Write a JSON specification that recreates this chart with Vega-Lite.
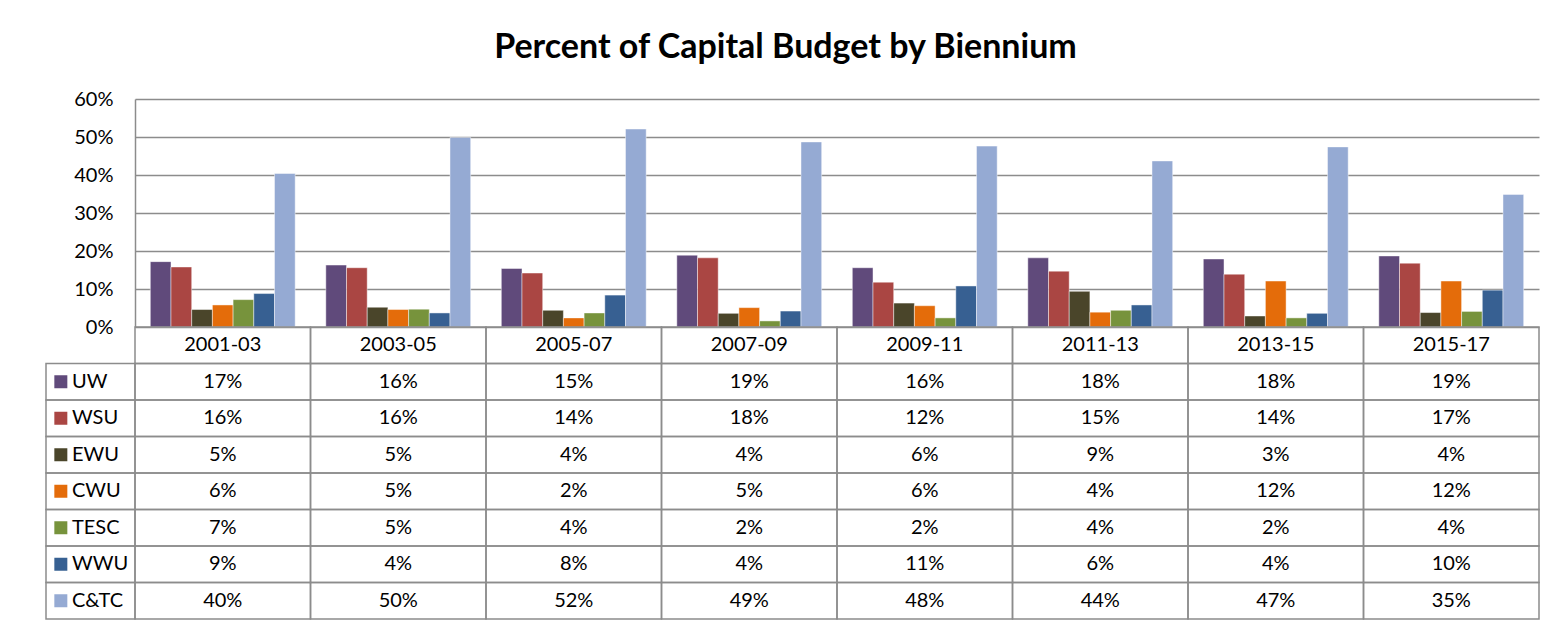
{
  "$schema": "https://vega.github.io/schema/vega-lite/v6.json",
  "padding": {"left": 45, "top": 31, "right": 5, "bottom": 5},
  "background": "#ffffff",
  "title": {"text": "Percent of Capital Budget by Biennium", "font": "Lato", "fontSize": 34, "fontWeight": "bold", "color": "#000000", "anchor": "middle", "offset": 24, "dx": -7},
  "config": {"font": "Lato", "view": {"stroke": null}},
  "data": {"values": [
    {"biennium": "2001-03", "series": "UW", "value": 0.172},
    {"biennium": "2001-03", "series": "WSU", "value": 0.158},
    {"biennium": "2001-03", "series": "EWU", "value": 0.046},
    {"biennium": "2001-03", "series": "CWU", "value": 0.058},
    {"biennium": "2001-03", "series": "TESC", "value": 0.072},
    {"biennium": "2001-03", "series": "WWU", "value": 0.088},
    {"biennium": "2001-03", "series": "C&TC", "value": 0.404},
    {"biennium": "2003-05", "series": "UW", "value": 0.163},
    {"biennium": "2003-05", "series": "WSU", "value": 0.156},
    {"biennium": "2003-05", "series": "EWU", "value": 0.052},
    {"biennium": "2003-05", "series": "CWU", "value": 0.046},
    {"biennium": "2003-05", "series": "TESC", "value": 0.047},
    {"biennium": "2003-05", "series": "WWU", "value": 0.037},
    {"biennium": "2003-05", "series": "C&TC", "value": 0.499},
    {"biennium": "2005-07", "series": "UW", "value": 0.154},
    {"biennium": "2005-07", "series": "WSU", "value": 0.142},
    {"biennium": "2005-07", "series": "EWU", "value": 0.044},
    {"biennium": "2005-07", "series": "CWU", "value": 0.024},
    {"biennium": "2005-07", "series": "TESC", "value": 0.037},
    {"biennium": "2005-07", "series": "WWU", "value": 0.084},
    {"biennium": "2005-07", "series": "C&TC", "value": 0.521},
    {"biennium": "2007-09", "series": "UW", "value": 0.189},
    {"biennium": "2007-09", "series": "WSU", "value": 0.182},
    {"biennium": "2007-09", "series": "EWU", "value": 0.036},
    {"biennium": "2007-09", "series": "CWU", "value": 0.051},
    {"biennium": "2007-09", "series": "TESC", "value": 0.016},
    {"biennium": "2007-09", "series": "WWU", "value": 0.042},
    {"biennium": "2007-09", "series": "C&TC", "value": 0.487},
    {"biennium": "2009-11", "series": "UW", "value": 0.156},
    {"biennium": "2009-11", "series": "WSU", "value": 0.118},
    {"biennium": "2009-11", "series": "EWU", "value": 0.063},
    {"biennium": "2009-11", "series": "CWU", "value": 0.056},
    {"biennium": "2009-11", "series": "TESC", "value": 0.024},
    {"biennium": "2009-11", "series": "WWU", "value": 0.108},
    {"biennium": "2009-11", "series": "C&TC", "value": 0.476},
    {"biennium": "2011-13", "series": "UW", "value": 0.182},
    {"biennium": "2011-13", "series": "WSU", "value": 0.147},
    {"biennium": "2011-13", "series": "EWU", "value": 0.094},
    {"biennium": "2011-13", "series": "CWU", "value": 0.039},
    {"biennium": "2011-13", "series": "TESC", "value": 0.044},
    {"biennium": "2011-13", "series": "WWU", "value": 0.058},
    {"biennium": "2011-13", "series": "C&TC", "value": 0.437},
    {"biennium": "2013-15", "series": "UW", "value": 0.179},
    {"biennium": "2013-15", "series": "WSU", "value": 0.139},
    {"biennium": "2013-15", "series": "EWU", "value": 0.029},
    {"biennium": "2013-15", "series": "CWU", "value": 0.121},
    {"biennium": "2013-15", "series": "TESC", "value": 0.024},
    {"biennium": "2013-15", "series": "WWU", "value": 0.036},
    {"biennium": "2013-15", "series": "C&TC", "value": 0.474},
    {"biennium": "2015-17", "series": "UW", "value": 0.187},
    {"biennium": "2015-17", "series": "WSU", "value": 0.168},
    {"biennium": "2015-17", "series": "EWU", "value": 0.038},
    {"biennium": "2015-17", "series": "CWU", "value": 0.121},
    {"biennium": "2015-17", "series": "TESC", "value": 0.041},
    {"biennium": "2015-17", "series": "WWU", "value": 0.097},
    {"biennium": "2015-17", "series": "C&TC", "value": 0.349}
  ]},
  "columns": 2,
  "spacing": 0,
  "bounds": "flush",
  "concat": [
    {
      "width": 89, "height": 228,
      "transform": [{"filter": "false"}],
      "mark": "point",
      "encoding": {}
    },
    {
      "width": 1404, "height": 228,
      "mark": {"type": "bar", "stroke": "#ffffff", "strokeOpacity": 0.45, "strokeWidth": 1},
      "encoding": {
        "x": {"field": "biennium", "type": "nominal", "scale": {"paddingInner": 0, "paddingOuter": 0}, "axis": null},
        "xOffset": {"field": "series", "type": "nominal", "sort": ["UW", "WSU", "EWU", "CWU", "TESC", "WWU", "C&TC"], "scale": {"paddingInner": 0, "paddingOuter": 0.74}},
        "y": {"field": "value", "type": "quantitative", "scale": {"domain": [0, 0.6], "nice": false},
          "axis": {"format": ".0%", "values": [0, 0.1, 0.2, 0.3, 0.4, 0.5, 0.6], "ticks": false, "domainColor": "#8c8c8c", "domainWidth": 1.5, "gridColor": "#8c8c8c", "gridWidth": 1.5, "labelFontSize": 20, "labelColor": "#000000", "labelPadding": 22, "title": null}},
        "color": {"field": "series", "type": "nominal", "scale": {"domain": ["UW", "WSU", "EWU", "CWU", "TESC", "WWU", "C&TC"], "range": ["#604A7B", "#AA4643", "#4A452A", "#E46C0A", "#77933C", "#376092", "#95AAD3"]}, "legend": null}
      }
    },
    {
      "width": 89, "height": 292,
      "transform": [{"filter": "datum.biennium == '2001-03'"}],
      "layer": [
        {
          "mark": {"type": "rect", "fill": "transparent", "stroke": "#8c8c8c", "strokeWidth": 1.5},
          "encoding": {
            "x": {"datum": 0, "type": "quantitative", "scale": {"domain": [0, 6]}, "axis": null},
            "x2": {"datum": 6},
            "y": {"field": "series", "type": "nominal", "scale": {"domain": [" ", "UW", "WSU", "EWU", "CWU", "TESC", "WWU", "C&TC"], "paddingInner": 0, "paddingOuter": 0}, "axis": null}
          }
        },
        {
          "mark": {"type": "point", "shape": "square", "filled": true, "size": 169, "opacity": 1},
          "encoding": {
            "x": {"datum": 1, "type": "quantitative"},
            "y": {"field": "series", "type": "nominal"},
            "color": {"field": "series", "type": "nominal", "scale": {"domain": ["UW", "WSU", "EWU", "CWU", "TESC", "WWU", "C&TC"], "range": ["#604A7B", "#AA4643", "#4A452A", "#E46C0A", "#77933C", "#376092", "#95AAD3"]}, "legend": null}
          }
        },
        {
          "mark": {"type": "text", "align": "left", "fontSize": 20, "color": "#000000"},
          "encoding": {
            "x": {"datum": 1.75, "type": "quantitative"},
            "y": {"field": "series", "type": "nominal"},
            "text": {"field": "series"}
          }
        }
      ]
    },
    {
      "width": 1404, "height": 292,
      "layer": [
        {
          "mark": {"type": "rect", "fill": "transparent", "stroke": "#8c8c8c", "strokeWidth": 1.5},
          "encoding": {
            "x": {"field": "biennium", "type": "nominal", "scale": {"paddingInner": 0, "paddingOuter": 0}, "axis": null},
            "y": {"field": "series", "type": "nominal", "scale": {"domain": [" ", "UW", "WSU", "EWU", "CWU", "TESC", "WWU", "C&TC"], "paddingInner": 0, "paddingOuter": 0}, "axis": null}
          }
        },
        {
          "transform": [{"filter": "datum.series == 'UW'"}],
          "mark": {"type": "rect", "fill": "transparent", "stroke": "#8c8c8c", "strokeWidth": 1.5},
          "encoding": {
            "x": {"field": "biennium", "type": "nominal"},
            "y": {"datum": " ", "type": "nominal"}
          }
        },
        {
          "mark": {"type": "text", "fontSize": 20, "color": "#000000"},
          "encoding": {
            "x": {"field": "biennium", "type": "nominal"},
            "y": {"field": "series", "type": "nominal"},
            "text": {"field": "value", "type": "quantitative", "format": ".0%"}
          }
        },
        {
          "transform": [{"filter": "datum.series == 'UW'"}],
          "mark": {"type": "text", "fontSize": 20, "color": "#000000"},
          "encoding": {
            "x": {"field": "biennium", "type": "nominal"},
            "y": {"datum": " ", "type": "nominal"},
            "text": {"field": "biennium"}
          }
        }
      ]
    }
  ]
}
